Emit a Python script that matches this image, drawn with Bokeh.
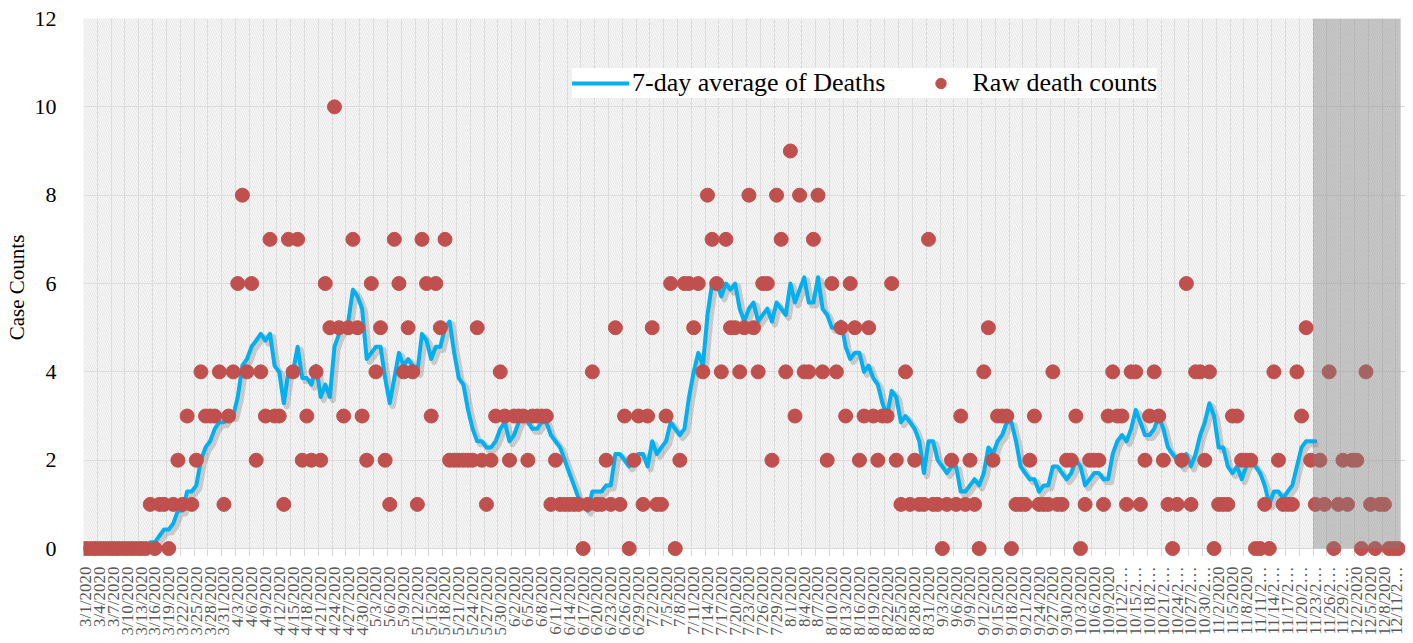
import math
from datetime import date, timedelta
from bokeh.plotting import figure
from bokeh.models import Range1d, FixedTicker, BoxAnnotation, Legend, LegendItem
from bokeh.embed import file_html
from bokeh.resources import INLINE

# ---------------- data ----------------
start_date = date(2020, 3, 1)
shade_start_date = date(2020, 11, 23)   # greyed-out (incomplete) period

raw_deaths = [
    0, 0, 0, 0, 0, 0, 0, 0, 0, 0,
    0, 0, 0, 0, 1, 0, 1, 1, 0, 1,
    2, 1, 3, 1, 2, 4, 3, 3, 3, 4,
    1, 3, 4, 6, 8, 4, 6, 2, 4, 3,
    7, 3, 3, 1, 7, 4, 7, 2, 3, 2,
    4, 2, 6, 5, 10, 5, 3, 5, 7, 5,
    3, 2, 6, 4, 5, 2, 1, 7, 6, 4,
    5, 4, 1, 7, 6, 3, 6, 5, 7, 2,
    2, 2, 2, 2, 2, 5, 2, 1, 2, 3,
    4, 3, 2, 3, 3, 3, 2, 3, 3, 3,
    3, 1, 2, 1, 1, 1, 1, 1, 0, 1,
    4, 1, 1, 2, 1, 5, 1, 3, 0, 2,
    3, 1, 3, 5, 1, 1, 3, 6, 0, 2,
    6, 6, 5, 6, 4, 8, 7, 6, 4, 7,
    5, 5, 4, 5, 8, 5, 4, 6, 6, 2,
    8, 7, 4, 9, 3, 8, 4, 4, 7, 8,
    4, 2, 6, 4, 5, 3, 6, 5, 2, 3,
    5, 3, 2, 3, 3, 6, 2, 1, 4, 1,
    2, 1, 1, 7, 1, 1, 0, 1, 2, 1,
    3, 1, 2, 1, 0, 4, 5, 2, 3, 3,
    3, 0, 1, 1, 1, 2, 3, 1, 1, 1,
    4, 1, 1, 2, 2, 3, 0, 1, 2, 2,
    2, 1, 3, 4, 3, 3, 1, 4, 4, 1,
    2, 3, 4, 3, 2, 1, 0, 1, 2, 6,
    1, 4, 4, 2, 4, 0, 1, 1, 1, 3,
    3, 2, 2, 2, 0, 0, 1, 0, 4, 2,
    1, 1, 1, 4, 3, 5, 2, 1, 2, 1,
    4, 0, 1, 2, 1, 2, 2, 0, 4, 1,
    0, 1, 1, 0, 0, 0,
]

avg_deaths = [
    0, 0, 0, 0, 0, 0, 0, 0, 0, 0,
    0, 0, 0, 0, 0.14, 0.14, 0.29, 0.43, 0.43, 0.57,
    0.86, 0.86, 1.29, 1.29, 1.43, 2.0, 2.29, 2.43, 2.71, 2.86,
    2.86, 3.0, 3.0, 3.43, 4.14, 4.29, 4.57, 4.71, 4.86, 4.71,
    4.86, 4.14, 4.0, 3.29, 4.0, 4.0, 4.57, 3.86, 3.86, 3.71,
    4.14, 3.43, 3.71, 3.43, 4.57, 4.86, 5.0, 5.14, 5.86, 5.71,
    5.43, 4.29, 4.43, 4.57, 4.57, 3.86, 3.29, 3.86, 4.43, 4.14,
    4.29, 4.14, 4.0, 4.86, 4.71, 4.29, 4.57, 4.57, 5.0, 5.14,
    4.43, 3.86, 3.71, 3.14, 2.71, 2.43, 2.43, 2.29, 2.29, 2.43,
    2.71, 2.86, 2.43, 2.57, 2.86, 3.0, 2.86, 2.71, 2.71, 2.86,
    2.86, 2.57, 2.43, 2.29, 2.0, 1.71, 1.43, 1.14, 1.0, 0.86,
    1.29, 1.29, 1.29, 1.43, 1.43, 2.14, 2.14, 2.0, 1.86, 2.0,
    2.14, 2.14, 1.86, 2.43, 2.14, 2.29, 2.43, 2.86, 2.71, 2.57,
    2.71, 3.43, 4.0, 4.43, 4.14, 5.29, 6.0, 6.0, 5.71, 6.0,
    5.86, 6.0, 5.43, 5.14, 5.43, 5.57, 5.14, 5.29, 5.43, 5.14,
    5.57, 5.43, 5.29, 6.0, 5.57, 5.86, 6.14, 5.57, 5.57, 6.14,
    5.43, 5.29, 5.0, 5.0, 5.14, 4.57, 4.29, 4.43, 4.43, 4.0,
    4.14, 3.86, 3.71, 3.29, 3.0, 3.57, 3.43, 2.86, 3.0, 2.86,
    2.71, 2.43, 1.71, 2.43, 2.43, 2.0, 1.86, 1.71, 1.86, 1.86,
    1.29, 1.29, 1.43, 1.57, 1.43, 1.71, 2.29, 2.14, 2.43, 2.57,
    2.86, 2.86, 2.43, 1.86, 1.71, 1.57, 1.57, 1.29, 1.43, 1.43,
    1.86, 1.86, 1.71, 1.57, 1.71, 2.0, 1.86, 1.43, 1.57, 1.71,
    1.71, 1.57, 1.57, 2.14, 2.43, 2.57, 2.43, 2.71, 3.14, 2.86,
    2.57, 2.57, 2.71, 3.0, 2.71, 2.29, 2.14, 2.0, 1.86, 2.14,
    1.86, 2.14, 2.57, 2.86, 3.29, 3.0, 2.29, 2.29, 1.86, 1.71,
    1.86, 1.57, 1.86, 2.0, 1.86, 1.71, 1.43, 1.0, 1.29, 1.29,
    1.14, 1.29, 1.43, 1.86, 2.29, 2.43, 2.43, 2.43,
]

y_ticks = [0, 2, 4, 6, 8, 10, 12]

# categories (one per day) and tick labels (every third day)
n_days = len(raw_deaths)
day_index = list(range(n_days))
dates = [start_date + timedelta(days=i) for i in day_index]


def excel_label(d):
    s = f"{d.month}/{d.day}/{d.year}"
    return s if len(s) <= 9 else s[:7] + "\u2026"


tick_days = day_index[::3]
tick_labels = [excel_label(dates[i]) for i in tick_days]
avg_days = day_index[:len(avg_deaths)]
shade_left = (shade_start_date - start_date).days - 0.5

# ---------------- figure ----------------
SERIF = "Liberation Serif"
X0, X1 = -0.5, 286.58
Y0, Y1 = -0.18, 12

p = figure(
    frame_width=1322, frame_height=538,
    x_range=Range1d(X0, X1), y_range=Range1d(Y0, Y1),
    output_backend="svg", toolbar_location=None,
    min_border_left=83, min_border_right=0, min_border_top=18, min_border_bottom=87,
    background_fill_color="white", border_fill_color="white",
)
p.outline_line_color = None

# hatched plot area
bg = BoxAnnotation(left=-0.5, right=n_days - 0.5, bottom=0, top=12,
                   fill_color=None, fill_alpha=0,
                   line_color="#d9d9d9", line_width=1,
                   hatch_pattern="\\", hatch_color="#e0e0e0", hatch_scale=4.5,
                   hatch_weight=1, level="underlay")
p.add_layout(bg)

# soft shadow under the line (same data drawn through slightly offset ranges)
dx = 3 / 4.605
dy = 3 / 44.17
p.extra_x_ranges = {"shadow": Range1d(X0 - dx, X1 - dx)}
p.extra_y_ranges = {"shadow": Range1d(Y0 + dy, Y1 + dy)}
p.line(avg_days, avg_deaths, x_range_name="shadow", y_range_name="shadow",
       line_color="black", line_alpha=0.16, line_width=6, line_join="round")

line_r = p.line(avg_days, avg_deaths, line_color="#00B0F0", line_width=4,
                line_join="round", line_cap="round")
dots_r = p.scatter(day_index, raw_deaths, marker="circle", size=14,
                   fill_color="#C0504D", line_color="#C0504D")

shade = BoxAnnotation(left=shade_left, right=n_days - 0.5, bottom=0, top=12,
                      fill_color="#7f7f7f", fill_alpha=0.4, line_color=None)
p.add_layout(shade)

# axes
p.xaxis.ticker = FixedTicker(ticks=tick_days)
p.xaxis.major_label_overrides = {t: lab for t, lab in zip(tick_days, tick_labels)}
p.xaxis.major_label_orientation = math.pi / 2
p.xaxis.major_label_text_font = SERIF
p.xaxis.major_label_text_font_size = "17px"
p.xaxis.major_label_text_color = "#595959"
p.xaxis.major_label_standoff = 4
p.xaxis.axis_line_color = None
p.xaxis.major_tick_line_color = None
p.xaxis.minor_tick_line_color = None

p.yaxis.ticker = FixedTicker(ticks=y_ticks)
p.yaxis.axis_label = "Case Counts"
p.yaxis.axis_label_text_font = SERIF
p.yaxis.axis_label_text_font_style = "normal"
p.yaxis.axis_label_text_font_size = "21px"
p.yaxis.axis_label_text_color = "black"
p.yaxis.axis_label_standoff = 3
p.yaxis.major_label_text_font = SERIF
p.yaxis.major_label_text_font_size = "22px"
p.yaxis.major_label_text_color = "black"
p.yaxis.major_label_standoff = 21
p.yaxis.axis_line_color = None
p.yaxis.major_tick_line_color = None
p.yaxis.minor_tick_line_color = None

# grid
p.xgrid.ticker = FixedTicker(ticks=[t - 0.5 for t in tick_days])
p.xgrid.grid_line_color = "#d9d9d9"
p.ygrid.grid_line_color = "#d9d9d9"

# legend
legend = Legend(
    items=[LegendItem(label="7-day average of Deaths", renderers=[line_r]),
           LegendItem(label="Raw death counts", renderers=[dots_r])],
    orientation="horizontal", location=(489, 458),
    background_fill_color="white", background_fill_alpha=1.0,
    border_line_color=None, padding=11, spacing=27, margin=0,
    glyph_width=57, glyph_height=26, label_height=26, label_standoff=3,
    label_text_font=SERIF, label_text_font_size="26px", label_text_color="black",
)
p.add_layout(legend)

open("out.html", "w").write(file_html(p, INLINE))
